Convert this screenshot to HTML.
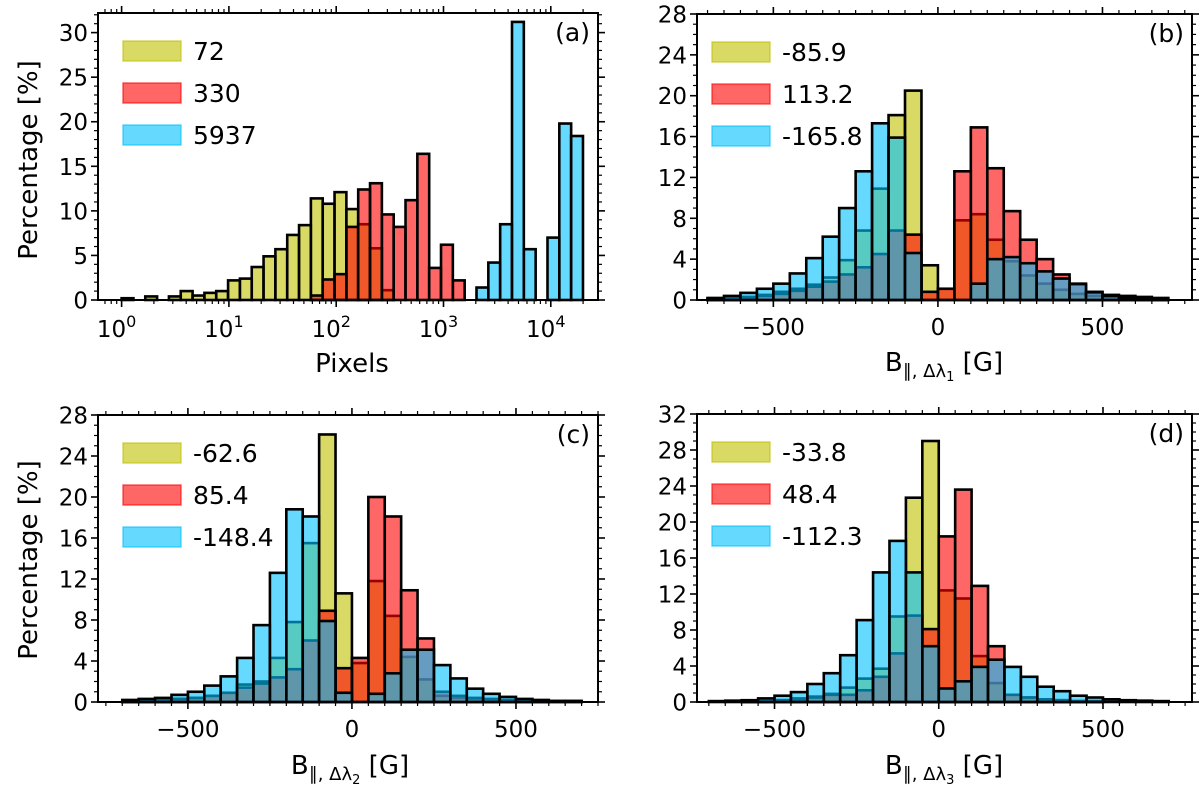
<!DOCTYPE html>
<html><head><meta charset="utf-8"><style>
html,body{margin:0;padding:0;background:#fff;}
svg{display:block;font-family:"DejaVu Sans","Liberation Sans",sans-serif;}
</style></head><body>
<svg id="fig" width="1200" height="793" viewBox="0 0 1200 793" xmlns="http://www.w3.org/2000/svg"></svg>
<script>
// ---- Panel (a) data: log-spaced pixel bins ----
const aLegend = ["72", "330", "5937"];
const aYellow = [0.2,0,0.4,0,0.4,1.0,0.5,0.8,1.0,2.2,2.4,3.7,4.9,5.7,7.3,8.4,11.4,10.8,12.1,10.2,8.5,5.8,1.1,0,0,0,0,0,0,0,0,0,0,0,0,0,0,0,0];
const aRed    = [0,0,0,0,0,0,0,0,0,0,0,0,0,0,0,0,0.5,2.3,2.9,8.2,12.4,13.1,9.6,8.2,11.2,16.4,3.6,6.2,2.2,0,0,0,0,0,0,0,0,0,0];
const aBlue   = [0,0,0,0,0,0,0,0,0,0,0,0,0,0,0,0,0,0,0,0,0,0,0,0,0,0,0,0,0,0,1.4,4.2,8.5,31.2,5.7,0,7.0,19.8,18.4];
const aYTicks = [0,5,10,15,20,25,30];
const aXTickExps = [0,1,2,3,4];
// ---- Panel (b) ----
const bLegend = ["-85.9", "113.2", "-165.8"];
const bYellow = [0.1,0.2,0.3,0.5,0.8,1.1,1.5,2.2,3.9,6.8,10.9,18.1,20.5,3.4,1.1,7.8,8.4,5.9,3.8,2.4,1.6,1.0,0.6,0.4,0.3,0.2,0.1,0.1];
const bRed    = [0.1,0.1,0.2,0.4,0.6,0.9,1.3,1.8,2.5,3.2,4.5,6.8,6.4,0.8,1.1,12.6,16.9,12.9,8.7,5.9,4.0,2.5,1.5,0.8,0.5,0.4,0.3,0.2];
const bBlue   = [0.2,0.4,0.7,1.1,1.6,2.6,4.1,6.2,9.0,12.6,17.3,15.9,4.6,0,0,0,1.6,4.0,4.2,3.6,2.8,2.1,1.6,0.75,0.4,0.2,0.1,0.1];
// ---- Panel (c) ----
const cLegend = ["-62.6", "85.4", "-148.4"];
const cYellow = [0.1,0.1,0.2,0.3,0.4,0.6,0.9,1.7,2.0,4.3,7.8,15.5,26.1,10.6,3.8,11.8,8.4,4.4,2.2,0.6,0.4,0.3,0.2,0.1,0.1,0.1,0,0];
const cRed    = [0.1,0.1,0.2,0.3,0.4,0.6,0.9,1.4,1.8,2.4,3.2,6.0,8.9,3.3,4.3,20.0,18.1,10.9,6.2,1.0,0.6,0.4,0.3,0.2,0.1,0.1,0.1,0.1];
const cBlue   = [0.2,0.3,0.4,0.7,1.0,1.6,2.5,4.3,7.5,12.6,18.8,18.1,7.9,0.9,0,0.8,2.8,5.1,5.1,3.6,2.3,1.3,0.8,0.5,0.3,0.2,0.1,0.1];
// ---- Panel (d) ----
const dLegend = ["-33.8", "48.4", "-112.3"];
const dYellow = [0,0,0.1,0.1,0.2,0.4,0.6,0.9,1.6,2.6,3.7,9.5,22.7,29.0,12.4,11.5,5.1,2.1,0.8,0.5,0.3,0.2,0.1,0.1,0,0,0,0];
const dRed    = [0,0,0.1,0.1,0.2,0.3,0.5,0.8,0.8,1.3,2.8,5.4,9.6,8.1,18.4,23.6,12.9,6.2,0.8,0.5,0.3,0.2,0.1,0.1,0,0,0,0];
const dBlue   = [0.1,0.15,0.2,0.4,0.7,1.1,2.0,3.2,5.2,9.1,14.4,17.9,14.4,6.2,1.5,2.3,3.9,4.7,3.9,2.8,1.7,1.2,0.7,0.5,0.3,0.2,0.15,0.1];
const linXTicks = [-500, 0, 500];
const yTicks28 = [0,4,8,12,16,20,24,28];
const yTicks32 = [0,4,8,12,16,20,24,28,32];

const NS = "http://www.w3.org/2000/svg";
const svg = document.getElementById("fig");
const FILL = ["rgba(191,191,0,0.6)", "rgba(255,0,0,0.6)", "rgba(0,191,255,0.6)"];
const SOLID = ["#d9d966", "#ff6666", "#66d9ff"];
const TICKFS = 23;
function mk(tag, attrs, parent) {
  const e = document.createElementNS(NS, tag);
  for (const k in attrs) e.setAttribute(k, attrs[k]);
  (parent || svg).appendChild(e);
  return e;
}

function panel(P) {
  const g = mk("g", {});
  
  
  const sx = v => P.x0 + (v - P.xmin) / (P.xmax - P.xmin) * (P.x1 - P.x0);
  const sy = v => P.y1 - v / P.ymax * (P.y1 - P.y0);
  P.series.forEach((arr, si) => {
    arr.forEach((v, i) => {
      if (v <= 0) return;
      const a = P.edge(i), b = P.edge(i + 1);
      const r = mk("rect", {x: sx(a), y: sy(v), width: sx(b) - sx(a), height: sy(0) - sy(v),
        fill: FILL[si], stroke: "#000", "stroke-width": 2.6}, g);
      
      
    });
  });
  const fr = mk("rect", {x: P.x0, y: P.y0, width: P.x1 - P.x0, height: P.y1 - P.y0, fill: "none", stroke: "#000", "stroke-width": 2}, g);
  
  
  for (let v = 0; v <= P.ymax + 1e-6; v += P.yminor) {
    const y = sy(v);
    const major = P.yticks.some(t => Math.abs(t - v) < 1e-6);
    const L = major ? 7 : 4;
    mk("line", {x1: P.x0 - L, x2: P.x0, y1: y, y2: y, stroke: "#000", "stroke-width": major ? 1.6 : 1.2}, g);
    mk("line", {x1: P.x1, x2: P.x1 + L, y1: y, y2: y, stroke: "#000", "stroke-width": major ? 1.6 : 1.2}, g);
  }
  P.yticks.forEach(t => {
    const tx = mk("text", {x: P.x0 - 10, y: sy(t) + 8.5, "text-anchor": "end", "font-size": TICKFS}, g);
    tx.textContent = t;
    
    
  });
  P.xtickFn(g, sx);
  P.legend.forEach((lab, i) => {
    const y = P.y0 + 28 + i * 42;
    const r = mk("rect", {x: P.x0 + P.legX, y: y, width: 58, height: 20, fill: SOLID[i], stroke: FILL[i], "stroke-width": 1.5}, g);
    
    
    const t = mk("text", {x: P.x0 + P.legX + 70, y: y + 19, "font-size": 25}, g);
    t.textContent = lab;
    
    
  });
  const pl = mk("text", {x: P.x1 - 8, y: P.y0 + 28, "text-anchor": "end", "font-size": 25}, g);
  pl.textContent = P.label;
  
  
}

function linXTickFn(P) {
  return function (g, sx) {
    for (let v = -750; v <= 800; v += 50) {
      const x = sx(v);
      if (x < P.x0 - 0.5 || x > P.x1 + 0.5) continue;
      const major = v % 500 === 0;
      const L = major ? 7 : 4;
      mk("line", {x1: x, x2: x, y1: P.y1, y2: P.y1 + L, stroke: "#000", "stroke-width": major ? 1.6 : 1.2}, g);
      mk("line", {x1: x, x2: x, y1: P.y0 - L, y2: P.y0, stroke: "#000", "stroke-width": major ? 1.6 : 1.2}, g);
    }
    linXTicks.forEach(t => {
      const tx = mk("text", {x: sx(t), y: P.y1 + 35, "text-anchor": "middle", "font-size": TICKFS}, g);
      tx.textContent = t < 0 ? "\u2212" + Math.abs(t) : t;
      
      
    });
  };
}
const linEdge = i => -700 + 50 * i;

const PA = {name: "panel-a", label: "(a)", x0: 98, x1: 598, y0: 13, y1: 300, ymax: 32.2, xmin: -0.22, xmax: 4.44,
  yticks: aYTicks, yminor: 1, legX: 25, legend: aLegend, series: [aYellow, aRed, aBlue],
  edge: i => i * 4.3 / 39};
PA.xtickFn = function (g, sx) {
  for (let d = 0; d <= 4; d++) {
    for (let m = 1; m <= 9; m++) {
      const x = sx(d + Math.log10(m));
      if (x > PA.x1) continue;
      const major = m === 1;
      const L = major ? 7 : 4;
      mk("line", {x1: x, x2: x, y1: PA.y1, y2: PA.y1 + L, stroke: "#000", "stroke-width": major ? 1.6 : 1.2}, g);
      mk("line", {x1: x, x2: x, y1: PA.y0 - L, y2: PA.y0, stroke: "#000", "stroke-width": major ? 1.6 : 1.2}, g);
    }
  }
  [0.7, 0.8, 0.9].forEach(m => { const x = sx(Math.log10(m)); if (x >= PA.x0) {
    mk("line", {x1: x, x2: x, y1: PA.y1, y2: PA.y1 + 4, stroke: "#000", "stroke-width": 1.2}, g);
    mk("line", {x1: x, x2: x, y1: PA.y0 - 4, y2: PA.y0, stroke: "#000", "stroke-width": 1.2}, g); }});
  aXTickExps.forEach(e => {
    const tx = mk("text", {x: sx(e) - 5, y: PA.y1 + 37, "text-anchor": "middle", "font-size": TICKFS}, g);
    
    
    tx.appendChild(document.createTextNode("10"));
    const sup = mk("tspan", {dy: -10, "font-size": 16}, tx);
    sup.textContent = e;
  });
};
panel(PA);

const PB = {name: "panel-b", label: "(b)", x0: 697, x1: 1192, y0: 14, y1: 300, ymax: 28, xmin: -732, xmax: 772,
  yticks: yTicks28, yminor: 1, legX: 15, legend: bLegend, series: [bYellow, bRed, bBlue], edge: linEdge};
PB.xtickFn = linXTickFn(PB); panel(PB);
const PC = {name: "panel-c", label: "(c)", x0: 98, x1: 598, y0: 415, y1: 702, ymax: 28, xmin: -774, xmax: 750,
  yticks: yTicks28, yminor: 1, legX: 25, legend: cLegend, series: [cYellow, cRed, cBlue], edge: linEdge};
PC.xtickFn = linXTickFn(PC); panel(PC);
const PD = {name: "panel-d", label: "(d)", x0: 697, x1: 1192, y0: 414, y1: 702, ymax: 32, xmin: -736, xmax: 771,
  yticks: yTicks32, yminor: 1, legX: 15, legend: dLegend, series: [dYellow, dRed, dBlue], edge: linEdge};
PD.xtickFn = linXTickFn(PD); panel(PD);

function ytitle(y, name) {
  const t = mk("text", {x: 0, y: 0, transform: "translate(37," + y + ") rotate(-90)", "text-anchor": "middle", "font-size": 26});
  t.textContent = "Percentage [%]";
  
  
}
ytitle(160, 'y-axis-title-top');
ytitle(560, 'y-axis-title-bottom');
const px = mk("text", {x: 352, y: 372, "text-anchor": "middle", "font-size": 26});
px.textContent = "Pixels";


function btitle(x, y, sub, name) {
  const t = mk("text", {x: x, y: y, "text-anchor": "middle", "font-size": 26});
  
  
  t.appendChild(document.createTextNode("B"));
  const s = mk("tspan", {dy: 6, "font-size": 18}, t); s.textContent = "\u2225, \u0394\u03bb";
  const s2 = mk("tspan", {dy: 4, "font-size": 13}, t); s2.textContent = sub;
  const s3 = mk("tspan", {dy: -10}, t); s3.textContent = " [G]";
}
btitle(944, 371, "1", 'x-axis-title-b');
btitle(350, 774, "2", 'x-axis-title-c');
btitle(944, 774, "3", 'x-axis-title-d');
</script>
</body></html>
